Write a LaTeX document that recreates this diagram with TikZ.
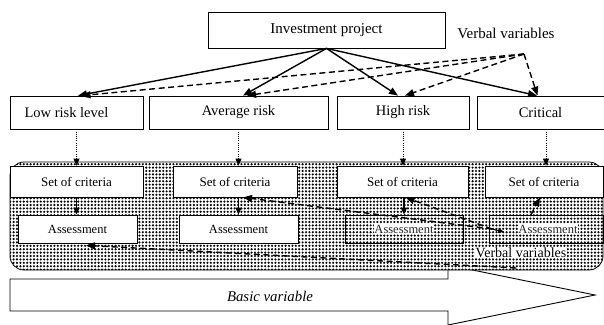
\documentclass[tikz,border=0pt]{standalone}
\usepackage{fontspec}
\setmainfont{Liberation Serif}
\usetikzlibrary{arrows.meta,patterns.meta,calc}
\tikzdeclarepattern{
  name=mydots,
  type=uncolored,
  bounding box={(-1.7pt,-1.7pt) and (1.7pt,1.7pt)},
  tile size={(3.4pt,3.4pt)},
  code={\fill (0pt,0pt) circle (1.2pt);}
}
\newcommand{\halo}[1]{{\setlength\fboxsep{0.6pt}\colorbox{white}{#1}}}
\tikzset{
  box/.style={draw, fill=white, line width=0.8pt, inner sep=0pt, anchor=center},
  openbox/.style={draw, line width=0.7pt, inner sep=0pt, anchor=center},
  bigfont/.style={font=\fontsize{14.5}{16}\selectfont},
  midfont/.style={font=\fontsize{13}{15}\selectfont},
  smallfont/.style={font=\fontsize{12.5}{14}\selectfont},
  solidarrow/.style={line width=1.4pt, -{Triangle[length=9pt,width=7pt]}},
  dasharrow/.style={line width=1.4pt, dash pattern=on 6pt off 3.5pt, -{Triangle[length=9pt,width=7pt]}},
  dotarrow/.style={line width=0.9pt, dash pattern=on 1pt off 1.2pt, -{Triangle[length=7pt,width=6pt]}},
  shortarrow/.style={line width=1.4pt, -{Triangle[length=7pt,width=6pt]}},
}
\begin{document}
\begin{tikzpicture}[x=1pt,y=-1pt]
\clip (0,0) rectangle (604,324);
\fill[white] (0,0) rectangle (604,324);

% big arrow (basic variable)
\draw[line width=0.9pt, fill=white] (10,279) -- (448,279) -- (448,265) -- (595,295) -- (448,325) -- (448,311) -- (10,311) -- cycle;
\node[font=\fontsize{14.8}{16}\selectfont\itshape] (basic) at (270,296) {Basic variable};

% dotted panel
\node[draw, line width=0.8pt, rounded corners=14pt, minimum width=593pt, minimum height=108pt,
      preaction={fill=white}, pattern={mydots}, pattern color=black, anchor=center] (panel) at (306.5,216) {};

% top level
\node[box, font=\fontsize{15}{16}\selectfont, minimum width=237pt, minimum height=36pt] (inv) at (326.5,30) {Investment project};
\node[font=\fontsize{15}{16}\selectfont] (vv1) at (506,33) {Verbal variables};
\coordinate (vtop) at (524,54);

\node[box, bigfont, minimum width=133pt, minimum height=33pt] (low) at (76.5,112.5) {\hspace*{-20pt}Low risk level};
\node[box, bigfont, minimum width=179pt, minimum height=33pt] (avg) at (238.5,112.5) {Average risk};
\node[box, bigfont, minimum width=132pt, minimum height=33pt] (high) at (403,112.5) {High risk};
\node[box, bigfont, minimum width=127pt, minimum height=33pt] (crit) at (540.5,112.5) {Critical};

% criteria
\node[box, midfont, minimum width=133pt, minimum height=31pt] (set1) at (76.5,181.5) {Set of criteria};
\node[box, midfont, minimum width=124pt, minimum height=31pt] (set2) at (235,181.5) {Set of criteria};
\node[box, midfont, minimum width=131pt, minimum height=31pt] (set3) at (402.5,181.5) {Set of criteria};
\node[box, midfont, minimum width=118pt, minimum height=31pt] (set4) at (544,181.5) {Set of criteria};

% assessments
\node[box, smallfont, minimum width=119pt, minimum height=28pt] (a1) at (77.5,229) {Assessment};
\node[box, smallfont, minimum width=119pt, minimum height=28pt] (a2) at (238.5,229) {Assessment};
\node[openbox, smallfont, minimum width=118pt, minimum height=28pt, text=black!85] (a3) at (404,229) {\halo{Assessment}};
\node[openbox, smallfont, minimum width=114pt, minimum height=28pt, text=black!85] (a4) at (546,229) {\hspace*{4pt}\halo{Assessment}};

\node[font=\fontsize{14}{15}\selectfont, fill=white, inner sep=0.5pt] (vv2) at (521,253) {Verbal variables};

% solid arrows from investment project
\draw[solidarrow] (inv.south) -- ([xshift=1.5pt]low.north);
\draw[solidarrow] (inv.south) -- ([xshift=4.5pt]avg.north);
\draw[solidarrow] (inv.south) -- ([xshift=-5pt]high.north);
\draw[solidarrow] (inv.south) -- ([xshift=-3.5pt]crit.north);

% dashed arrows from verbal variables (top)
\draw[dasharrow] (vtop) -- ([xshift=5pt]low.north);
\draw[dasharrow] (vtop) -- ([xshift=8.5pt]avg.north);
\draw[dasharrow] (vtop) -- ([xshift=2pt]high.north);
\draw[dasharrow] (vtop) -- ([xshift=-3pt]crit.north);

% dotted arrows down to criteria
\draw[dotarrow] (low.south) -- (low.south |- set1.north);
\draw[dotarrow] (avg.south) -- (avg.south |- set2.north);
\draw[dotarrow] (high.south) -- (high.south |- set3.north);
\draw[dotarrow] ([xshift=5.5pt]crit.south) -- ([xshift=5.5pt]crit.south |- set4.north);

% criteria to assessment
\draw[shortarrow] (set1.south) -- (set1.south |- a1.north);
\draw[shortarrow] (a2.north |- set2.south) -- (a2.north);
\draw[shortarrow] (a3.north |- set3.south) -- (a3.north);

% dashed arrows in lower panel
\coordinate (vo) at (492,229);
\coordinate (vb) at (516,268);
\draw[dasharrow] (vo) -- ([xshift=8pt]set2.south);
\draw[dasharrow] (vo) -- ([xshift=3pt]set3.south);
\draw[line width=1.2pt, -{Triangle[length=6pt,width=5pt]}] (vo) -- ([xshift=-42pt,yshift=-3pt]a4.center);
\draw[dasharrow] ([xshift=-15pt]a4.north) -- ([xshift=-4pt]set4.south);
\draw[dasharrow] (vb) -- ([xshift=8.5pt,yshift=-2pt]a1.south);
\end{tikzpicture}
\end{document}
